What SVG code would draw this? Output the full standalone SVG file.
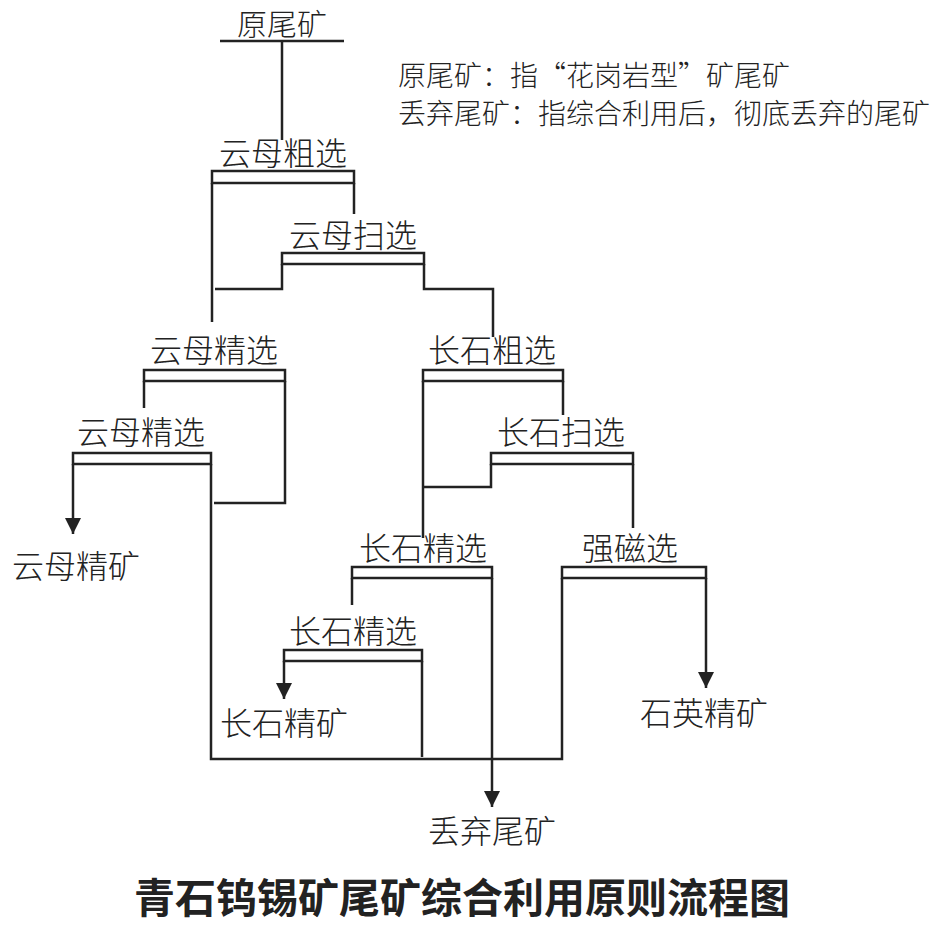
<svg xmlns="http://www.w3.org/2000/svg" width="949" height="925" viewBox="0 0 949 925">
<style>
text{font-family:"Noto Sans CJK SC","Noto Sans",sans-serif;fill:#222;font-weight:300}
.l{font-size:32px;text-anchor:middle}
.n{font-size:28px}
.t{font-size:41px;font-weight:bold;text-anchor:middle}
.c line,.c polyline,.b rect{stroke:#222;stroke-width:2.5;fill:none}
</style>
<defs><marker id="a" viewBox="0 0 10 10" refX="10" refY="5" markerWidth="18" markerHeight="16" markerUnits="userSpaceOnUse" orient="auto"><path d="M0,0 L10,5 L0,10 Z" fill="#222"/></marker></defs>
<rect width="949" height="925" fill="#fff"/>
<g id="n0"><text x="282" y="35" style="font-size:30px;text-anchor:middle">原尾矿</text><line x1="220" y1="41" x2="344" y2="41" stroke="#222" stroke-width="2.5"/></g>
<g id="n1" class="b"><text class="l" x="283" y="165">云母粗选</text><rect x="212" y="171" width="142" height="12"/></g>
<g id="n2" class="b"><text class="l" x="353" y="247">云母扫选</text><rect x="282" y="253" width="142" height="11"/></g>
<g id="n3" class="b"><text class="l" x="214" y="362">云母精选</text><rect x="144" y="370" width="141" height="11"/></g>
<g id="n4" class="b"><text class="l" x="141" y="444">云母精选</text><rect x="73" y="453" width="138" height="11"/></g>
<g id="n5" class="b"><text class="l" x="492" y="362">长石粗选</text><rect x="423" y="370" width="140" height="11"/></g>
<g id="n6" class="b"><text class="l" x="561" y="444">长石扫选</text><rect x="491" y="453" width="142" height="11"/></g>
<g id="n7" class="b"><text class="l" x="423" y="560">长石精选</text><rect x="352" y="567" width="140" height="11"/></g>
<g id="n8" class="b"><text class="l" x="630" y="560">强磁选</text><rect x="562" y="567" width="144" height="11"/></g>
<g id="n9" class="b"><text class="l" x="353" y="643">长石精选</text><rect x="284" y="650" width="138" height="11"/></g>
<g id="o1"><text class="l" x="76" y="578">云母精矿</text></g>
<g id="o2"><text class="l" x="284" y="735">长石精矿</text></g>
<g id="o3"><text class="l" x="704" y="725">石英精矿</text></g>
<g id="o4"><text class="l" x="492" y="843">丢弃尾矿</text></g>
<g id="note"><text class="n" x="398" y="86">原尾矿：指“花岗岩型”矿尾矿</text><text class="n" x="398" y="124">丢弃尾矿：指综合利用后，彻底丢弃的尾矿</text></g>
<g class="c" id="connectors">
<line x1="282" y1="41" x2="282" y2="140"/>
<line x1="212" y1="183" x2="212" y2="322"/>
<line x1="354" y1="183" x2="354" y2="214"/>
<polyline points="282,264 282,289 215,289"/>
<polyline points="424,264 424,289 493,289 493,337"/>
<line x1="144" y1="381" x2="144" y2="408"/>
<polyline points="285,381 285,503 214,503"/>
<line x1="73" y1="464" x2="73" y2="534" marker-end="url(#a)"/>
<polyline points="211,464 211,759 562,759 562,578"/>
<line x1="423" y1="381" x2="423" y2="538"/>
<line x1="563" y1="381" x2="563" y2="415"/>
<polyline points="491,464 491,487 423,487"/>
<line x1="633" y1="464" x2="633" y2="528"/>
<line x1="352" y1="578" x2="352" y2="605"/>
<line x1="492" y1="578" x2="492" y2="807" marker-end="url(#a)"/>
<line x1="706" y1="578" x2="706" y2="688" marker-end="url(#a)"/>
<line x1="284" y1="661" x2="284" y2="699" marker-end="url(#a)"/>
<line x1="422" y1="661" x2="422" y2="757"/>
</g>
<text class="t" x="462" y="913">青石钨锡矿尾矿综合利用原则流程图</text>
</svg>
